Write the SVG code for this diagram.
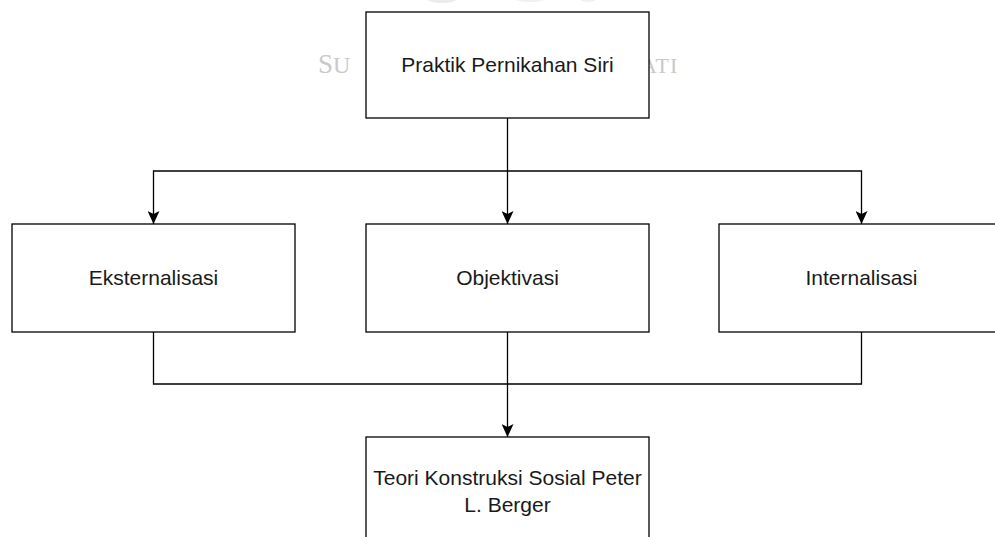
<svg xmlns="http://www.w3.org/2000/svg" width="995" height="537" viewBox="0 0 995 537">
  <style>
    .box { fill: #ffffff; stroke: #000000; stroke-width: 1.3; }
    .lbl { font-family: "Liberation Sans", Arial, Helvetica, sans-serif; font-size: 21px; fill: #1a1a1a; text-anchor: middle; }
    .edge { fill: none; stroke: #000000; stroke-width: 1.3; }
    .wm { font-family: "Liberation Serif", "Times New Roman", serif; fill: #c9c9c9; }
  </style>
  <defs>
    <marker id="arrow" viewBox="0 0 13 12" refX="13" refY="6" markerWidth="13" markerHeight="12" markerUnits="userSpaceOnUse" orient="auto">
      <path d="M0,0 L13,6 L0,12 L3,6 Z" fill="#000000"/>
    </marker>
  </defs>
  <rect x="0" y="0" width="995" height="537" fill="#ffffff"/>
  <g id="watermark">
    <ellipse cx="442" cy="-8" rx="22" ry="11" fill="#ececec"/>
    <ellipse cx="530" cy="-6" rx="22" ry="8" fill="#f0f0f0"/>
    <ellipse cx="588" cy="-6" rx="12" ry="8" fill="#f0f0f0"/>
    <text class="wm" x="318" y="73" font-size="27">S<tspan font-size="24">U</tspan></text>
    <text class="wm" x="641" y="73" font-size="22" letter-spacing="1">ATI</text>
  </g>
  <g id="connectors">
    <path class="edge" d="M507.5,118 L507.5,224" marker-end="url(#arrow)"/>
    <path class="edge" d="M507.5,171 L153.5,171 L153.5,224" marker-end="url(#arrow)"/>
    <path class="edge" d="M507.5,171 L861.5,171 L861.5,224" marker-end="url(#arrow)"/>
    <path class="edge" d="M153.5,332 L153.5,384 L861.5,384 L861.5,332"/>
    <path class="edge" d="M507.5,332 L507.5,437" marker-end="url(#arrow)"/>
  </g>
  <g id="node-praktik">
    <rect class="box" x="366" y="12" width="283" height="106"/>
    <text class="lbl" x="507.5" y="72">Praktik Pernikahan Siri</text>
  </g>
  <g id="node-eksternalisasi">
    <rect class="box" x="12" y="224" width="283" height="108"/>
    <text class="lbl" x="153.5" y="285">Eksternalisasi</text>
  </g>
  <g id="node-objektivasi">
    <rect class="box" x="366" y="224" width="283" height="108"/>
    <text class="lbl" x="507.5" y="285">Objektivasi</text>
  </g>
  <g id="node-internalisasi">
    <rect class="box" x="719" y="224" width="283" height="108"/>
    <text class="lbl" x="861.5" y="285">Internalisasi</text>
  </g>
  <g id="node-teori">
    <rect class="box" x="366" y="437" width="283" height="110"/>
    <text class="lbl" x="507.5" y="485">Teori Konstruksi Sosial Peter</text>
    <text class="lbl" x="507.5" y="512">L. Berger</text>
  </g>
</svg>
